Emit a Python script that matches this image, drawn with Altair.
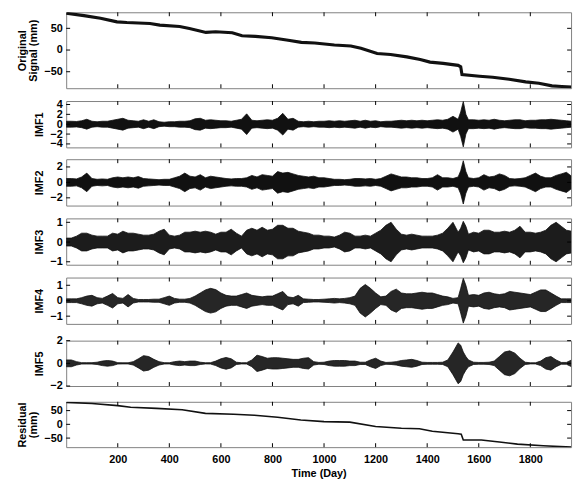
import altair as alt
import pandas as pd

# ---- sample grid (days) ----
days = [0, 20, 40, 60, 80, 100, 120, 140, 160, 180,
        200, 220, 240, 260, 280, 300, 320, 340, 360, 380,
        400, 420, 440, 460, 480, 500, 520, 540, 560, 580,
        600, 620, 640, 660, 680, 700, 720, 740, 760, 780,
        800, 820, 840, 860, 880, 900, 920, 940, 960, 980,
        1000, 1020, 1040, 1060, 1080, 1100, 1120, 1140, 1160, 1180,
        1200, 1220, 1240, 1260, 1280, 1300, 1320, 1340, 1360, 1380,
        1400, 1420, 1440, 1460, 1480, 1500, 1520,
        1530, 1540, 1550,
        1560, 1580, 1600, 1620, 1640, 1660, 1680, 1700, 1720, 1740,
        1760, 1780, 1800, 1820, 1840, 1860, 1880, 1900, 1920, 1940, 1960]

# ---- envelope amplitudes of the IMFs ----
imf1_amp = [0.6, 0.6, 0.55, 0.7, 1.0, 0.6, 0.5, 0.6, 0.6, 0.8,
            1.0, 1.2, 0.8, 0.7, 0.6, 0.9, 0.6, 0.9, 0.5, 0.4,
            0.5, 0.5, 0.6, 0.6, 0.7, 1.1, 1.2, 0.8, 0.9, 0.8,
            0.7, 0.7, 0.6, 0.8, 1.0, 2.1, 0.8, 0.7, 0.8, 0.9,
            0.8, 1.2, 2.2, 1.0, 1.2, 0.6, 0.5, 0.6, 0.5, 0.6,
            0.6, 0.7, 0.6, 0.7, 0.6, 0.7, 0.8, 0.6, 0.8, 0.6,
            0.7, 0.5, 0.6, 0.6, 0.7, 0.8, 0.7, 0.8, 0.7, 0.8,
            0.7, 0.8, 0.9, 0.8, 1.0, 1.6, 1.0,
            2.5, 4.6, 2.0,
            0.9, 0.9, 0.8, 0.9, 0.8, 1.0, 0.8, 0.7, 0.8, 0.9,
            0.9, 0.7, 0.8, 0.8, 0.9, 0.9, 1.0, 0.9, 0.8, 0.7, 0.6]

imf2_amp = [0.5, 0.5, 0.45, 0.7, 1.2, 0.5, 0.4, 0.45, 0.4, 0.6,
            0.7, 0.6, 0.7, 0.6, 0.75, 0.5, 0.45, 0.4, 0.35, 0.4,
            0.4, 0.6, 0.8, 1.2, 0.8, 0.7, 1.0, 0.6, 0.8, 0.7,
            0.6, 0.5, 0.45, 0.5, 0.5, 0.6, 0.9, 0.7, 1.0, 0.9,
            0.8, 1.4, 1.2, 1.3, 1.1, 0.9, 0.8, 0.7, 0.8, 0.6,
            0.6, 0.5, 0.4, 0.4, 0.35, 0.4, 0.5, 0.5, 0.45, 0.5,
            0.4, 0.5, 0.8, 1.1, 0.9, 0.7, 0.7, 0.6, 0.6, 0.5,
            0.5, 0.6, 1.0, 0.6, 0.6, 0.5, 0.7,
            1.5, 2.8, 1.4,
            0.6, 0.5, 0.6, 1.0, 0.7, 0.8, 1.1, 0.9, 0.5, 0.45,
            0.5, 0.6, 0.9, 1.2, 0.8, 0.6, 0.6, 0.9, 1.1, 1.3, 0.8]

imf3_amp = [0.2, 0.2, 0.3, 0.45, 0.45, 0.35, 0.3, 0.3, 0.3, 0.45,
            0.4, 0.55, 0.45, 0.45, 0.4, 0.35, 0.35, 0.4, 0.55, 0.65,
            0.35, 0.3, 0.35, 0.5, 0.5, 0.55, 0.5, 0.55, 0.5, 0.4,
            0.5, 0.5, 0.65, 0.45, 0.3, 0.6, 0.7, 0.6, 0.75, 0.6,
            0.65, 0.85, 0.85, 0.7, 0.7, 0.55, 0.5, 0.45, 0.35, 0.35,
            0.3, 0.3, 0.25, 0.35, 0.5, 0.45, 0.3, 0.3, 0.35, 0.3,
            0.45, 0.6, 0.85, 1.0, 0.65, 0.4, 0.35, 0.4, 0.35, 0.3,
            0.3, 0.3, 0.35, 0.45, 0.7, 1.0, 0.5,
            0.7, 1.05, 0.8,
            0.4, 0.5, 0.45, 0.6, 0.6, 0.5, 0.5, 0.55, 0.5, 0.6,
            0.8, 0.5, 0.5, 0.45, 0.5, 0.6, 0.85, 1.0, 0.8, 0.6, 0.55]

imf4_amp = [0.12, 0.12, 0.12, 0.2, 0.3, 0.35, 0.2, 0.15, 0.3, 0.47,
            0.2, 0.15, 0.4, 0.15, 0.08, 0.08, 0.08, 0.1, 0.1, 0.2,
            0.3, 0.15, 0.1, 0.1, 0.15, 0.3, 0.5, 0.7, 0.8, 0.72,
            0.5, 0.35, 0.3, 0.3, 0.4, 0.5, 0.35, 0.3, 0.25, 0.3,
            0.3, 0.45, 0.6, 0.25, 0.2, 0.35, 0.12, 0.1, 0.08, 0.08,
            0.1, 0.12, 0.15, 0.12, 0.15, 0.2, 0.3, 0.8, 1.05, 0.8,
            0.5, 0.25, 0.3, 0.6, 0.75, 0.5, 0.45, 0.45, 0.5, 0.55,
            0.5, 0.5, 0.4, 0.3, 0.25, 0.15, 0.2,
            0.8, 1.45, 1.0,
            0.35, 0.4, 0.35, 0.5, 0.55, 0.45, 0.4, 0.45, 0.6, 0.55,
            0.5, 0.45, 0.4, 0.55, 0.7, 0.7, 0.5, 0.3, 0.12, 0.12, 0.12]

imf5_amp = [0.3, 0.3, 0.15, 0.06, 0.06, 0.06, 0.1, 0.2, 0.25, 0.2,
            0.06, 0.05, 0.05, 0.15, 0.4, 0.68, 0.6, 0.35, 0.15, 0.06,
            0.05, 0.15, 0.2, 0.15, 0.2, 0.2, 0.1, 0.05, 0.06, 0.2,
            0.4, 0.52, 0.4, 0.1, 0.05, 0.06, 0.3, 0.72, 0.6, 0.45,
            0.5, 0.5, 0.45, 0.4, 0.35, 0.35, 0.45, 0.5, 0.15, 0.08,
            0.1, 0.2, 0.25, 0.25, 0.25, 0.2, 0.2, 0.1, 0.1, 0.3,
            0.45, 0.2, 0.08, 0.1, 0.15, 0.25, 0.3, 0.35, 0.25, 0.1,
            0.08, 0.08, 0.08, 0.1, 0.3, 1.0, 1.8,
            1.6, 1.0, 0.6,
            0.3, 0.1, 0.08, 0.08, 0.1, 0.2, 0.6, 1.0, 1.1, 0.9,
            0.45, 0.1, 0.05, 0.05, 0.2, 0.5, 0.6, 0.3, 0.08, 0.08, 0.3]

# ---- original signal and residual (mm) ----
orig_days = [0, 69, 133, 197, 235, 325, 363, 440, 478, 542, 580, 644, 682, 734,
             797, 861, 912, 964, 1040, 1104, 1143, 1206, 1258, 1321, 1373, 1411,
             1462, 1520, 1530, 1535, 1603, 1654, 1718, 1782, 1833, 1884, 1922, 1960]
orig_vals = [84.7, 79.4, 73.3, 65.0, 63.4, 61.1, 57.3, 54.3, 49.7, 40.6, 42.1, 39.8,
             33.0, 31.5, 28.4, 22.4, 17.8, 16.3, 11.7, 9.4, 4.1, -8.1, -10.4, -15.7,
             -21.8, -27.8, -30.9, -35.4, -38.5, -56.7, -60.5, -62.8, -67.4, -73.5,
             -76.5, -82.6, -84.1, -85.6]

res_days = [0, 100, 200, 250, 350, 450, 540, 650, 730, 820, 910, 1000, 1100, 1200,
            1300, 1370, 1420, 1520, 1532, 1540, 1610, 1680, 1750, 1850, 1960]
res_vals = [80, 76, 68, 62, 58, 53, 40, 37, 33, 26, 16, 10, 8, -8,
            -14, -16, -25, -34, -36, -57, -57, -64, -72, -78, -83]

x_ticks = [200, 400, 600, 800, 1000, 1200, 1400, 1600, 1800]
x_domain = [0, 1958]

FONT = "Liberation Sans"
W = 512
INK = "#111111"
TICK = 4


def panel(df, yfield, ydom, yticks, ytitle, h, kind, last=False, width_line=1.5,
          fill=INK):
    xsc = alt.Scale(domain=x_domain, nice=False, zero=False)
    ysc = alt.Scale(domain=ydom, nice=False, zero=False)
    xkw = dict(orient="bottom", values=x_ticks, labels=last, grid=False, domain=False,
               ticks=False, format="d", labelPadding=7, titlePadding=3)
    xkw["title"] = "Time (Day)" if last else None
    xaxis = alt.Axis(**xkw)
    yaxis = alt.Axis(orient="left", values=yticks, grid=False, domain=False,
                     ticks=False, format="d", labelPadding=4, titlePadding=5,
                     labelOverlap=False, title=ytitle)
    x = alt.X("day:Q", scale=xsc, axis=xaxis)
    y = alt.Y(f"{yfield}:Q", scale=ysc, axis=yaxis)
    base = alt.Chart(df)
    if kind == "area":
        main = base.mark_area(color=fill, opacity=1, stroke=INK, strokeWidth=0.8,
                              clip=True).encode(x=x, y=y, y2=alt.Y2("lo:Q"))
    else:
        main = base.mark_line(color=INK, strokeWidth=width_line, clip=True).encode(x=x, y=y)

    # inward tick marks on all four sides of the frame
    xt = alt.Chart(pd.DataFrame({"day": x_ticks}))
    yt = alt.Chart(pd.DataFrame({yfield: yticks}))
    xt_enc = alt.X("day:Q", scale=xsc, axis=xaxis)
    yt_enc = alt.Y(f"{yfield}:Q", scale=ysc, axis=yaxis)
    tick_style = dict(color="#000000", strokeWidth=1)
    bottom = xt.mark_rule(**tick_style).encode(x=xt_enc, y=alt.value(h - TICK), y2=alt.value(h))
    top = xt.mark_rule(**tick_style).encode(x=xt_enc, y=alt.value(0), y2=alt.value(TICK))
    left = yt.mark_rule(**tick_style).encode(y=yt_enc, x=alt.value(0), x2=alt.value(TICK))
    right = yt.mark_rule(**tick_style).encode(y=yt_enc, x=alt.value(W - TICK), x2=alt.value(W))

    return (alt.layer(main, bottom, top, left, right)
            .properties(width=W, height=h))


def imf_df(amp):
    return pd.DataFrame({"day": days, "hi": amp, "lo": [-a for a in amp]})


assert all(len(a) == len(days) for a in [imf1_amp, imf2_amp, imf3_amp, imf4_amp, imf5_amp])

orig_df = pd.DataFrame({"day": orig_days, "val": orig_vals})
res_df = pd.DataFrame({"day": res_days, "val": res_vals})

p0 = panel(orig_df, "val", [-88, 87], [-50, 0, 50], ["Original", "Signal (mm)"], 77, "line",
           width_line=3.2)
p1 = panel(imf_df(imf1_amp), "hi", [-4.7, 4.7], [-4, -2, 0, 2, 4], "IMF1", 47, "area")
p2 = panel(imf_df(imf2_amp), "hi", [-3, 3], [-2, 0, 2], "IMF2", 47, "area")
p3 = panel(imf_df(imf3_amp), "hi", [-1.15, 1.2], [-1, 0, 1], "IMF3", 47, "area",
           fill="#1c1c1c")
p4 = panel(imf_df(imf4_amp), "hi", [-1.5, 1.5], [-1, 0, 1], "IMF4", 47, "area",
           fill="#262626")
p5 = panel(imf_df(imf5_amp), "hi", [-2, 2], [-2, 0, 2], "IMF5", 46, "area",
           fill="#262626")
p6 = panel(res_df, "val", [-83, 82], [-50, 0, 50], ["Residual", "(mm)"], 46, "line",
           last=True, width_line=1.6)

chart = (alt.vconcat(p0, p1, p2, p3, p4, p5, p6, spacing=9)
         .properties(padding={"left": 7, "top": 0, "right": 4, "bottom": 0},
                     background="white")
         .configure_view(stroke="#808080", strokeWidth=1)
         .configure_axis(labelFont=FONT, labelFontSize=11, labelFontWeight="bold",
                         labelColor="black", titleFont=FONT, titleFontSize=11,
                         titleFontWeight="bold", titleColor="black", titleLineHeight=12))

chart.save("out.html", embed_options={"renderer": "svg", "actions": False})
